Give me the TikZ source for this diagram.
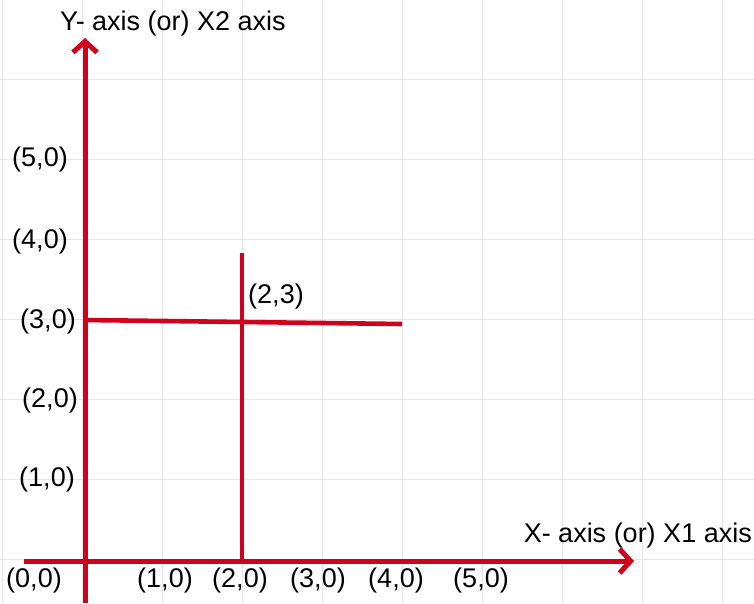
\documentclass[tikz,border=0pt]{standalone}
\usepackage{fontspec}
\setmainfont{Liberation Sans}
\usetikzlibrary{arrows.meta}
\definecolor{axisred}{HTML}{D0021B}
\definecolor{gridgray}{HTML}{E6E6E6}

\begin{document}
\begin{tikzpicture}[
  x=1pt, y=-1pt,
  >={Straight Barb[length=11pt,width=24pt]},
  axis/.style={draw=axisred, line width=5pt},
  guide/.style={draw=axisred, line width=4.6pt},
  every node/.style={inner sep=0pt, font=\fontsize{27}{32}\selectfont}
]
  \useasboundingbox (0,0) rectangle (754,603);

  % grid
  \foreach \gx in {2,82,...,722}
    \draw[gridgray, line width=1pt] (\gx,0) -- (\gx,603);
  \foreach \gy in {79,159,...,559}
    \draw[gridgray, line width=1pt] (0,\gy) -- (754,\gy);

  % end points
  \coordinate (Ybot) at (85,603);
  \coordinate (Ytop) at (85,38);
  \coordinate (Xleft) at (24,561);
  \coordinate (Xright) at (634,561);
  \coordinate (Vtop) at (242,253);
  \coordinate (Vbot) at (242,561);
  \coordinate (Hleft) at (85,320);
  \coordinate (Hright) at (402,324);

  % axes and guides
  \draw[axis, ->] (Ybot) -- (Ytop);
  \draw[axis, ->] (Xleft) -- (Xright);
  \draw[guide] (Vbot) -- (Vtop);
  \draw[guide] (Hleft) -- (Hright);

  % labels
  \node[anchor=base west] (Ylab) at (60,30) {Y- axis (or) X2 axis};
  \node[anchor=base east] (Xlab) at (752,542) {X- axis (or) X1 axis};
  \node (P23) at (276,297) {(2,3)};

  \node (T00) at (34,580) {(0,0)};
  \node (TX1) at (165,580) {(1,0)};
  \node (TX2) at (240,580) {(2,0)};
  \node (TX3) at (318,580) {(3,0)};
  \node (TX4) at (396,580) {(4,0)};
  \node (TX5) at (481,580) {(5,0)};

  \node (TY1) at (47,480) {(1,0)};
  \node (TY2) at (50,401) {(2,0)};
  \node (TY3) at (48,322) {(3,0)};
  \node (TY4) at (40,242) {(4,0)};
  \node (TY5) at (40,160) {(5,0)};
\end{tikzpicture}
\end{document}
